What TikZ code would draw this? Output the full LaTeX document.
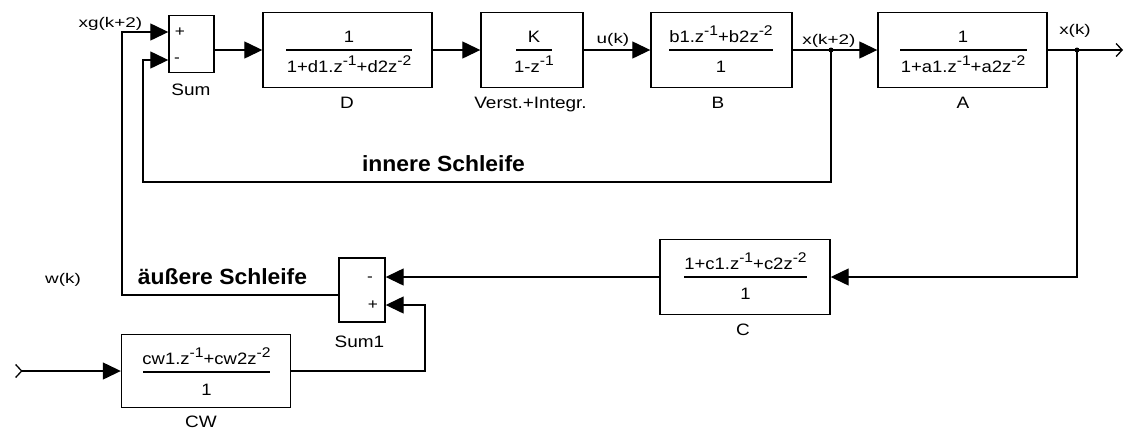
\documentclass[tikz,border=0pt]{standalone}
\usepackage{fontspec}
\setmainfont{Liberation Sans}
\newfontfamily\fsigfam{Liberation Sans}[FakeStretch=1.35]
\newfontfamily\fnamefam{Liberation Sans}[FakeStretch=1.15]
\newfontfamily\ffracfam{Liberation Sans}[FakeStretch=1.12]
\newfontfamily\fboldfam{Liberation Sans}[FakeStretch=1.04]
\usetikzlibrary{arrows.meta}
\newcommand\zsup[1]{\raisebox{6.5pt}{\fontsize{14}{14}\selectfont #1}}
\tikzset{
  box/.style={draw, line width=1.4pt, inner sep=0pt},
  ln/.style={line width=1.3pt},
  arr/.style={ln, -{Triangle[length=18pt,width=17pt]}},
  barbend/.style={ln, -{Straight Barb[length=6pt,width=13pt,line width=1.3pt]}},
  barbstart/.style={ln, {Straight Barb[reversed,length=6pt,width=13pt,line width=1.3pt]}-{Triangle[length=18pt,width=17pt]}},
  numtxt/.style={font=\ffracfam\fontsize{16.5}{17}\selectfont, inner sep=0pt, anchor=base},
  sig/.style={font=\fsigfam\fontsize{14}{15}\selectfont, inner sep=0pt, anchor=base},
  bname/.style={font=\fnamefam\fontsize{16.5}{17}\selectfont, inner sep=0pt, anchor=base},
  loopname/.style={font=\fboldfam\bfseries\fontsize{22}{23}\selectfont, inner sep=0pt, anchor=base},
  sign/.style={font=\fnamefam\fontsize{15}{15}\selectfont, inner sep=0pt},
  fbar/.style={line width=1.3pt},
  dot/.style={fill=black}
}
\begin{document}
\begin{tikzpicture}[x=1pt,y=-1pt]
\useasboundingbox (0,0) rectangle (1126,429);
% blocks
\node[box, minimum width=45pt, minimum height=57pt] (sum) at (191.5,44) {};
\node[box, minimum width=169pt, minimum height=75pt] (D) at (347.5,50) {};
\node[box, minimum width=102pt, minimum height=75pt] (V) at (532,50) {};
\node[box, minimum width=141pt, minimum height=75pt] (B) at (721.5,50) {};
\node[box, minimum width=169pt, minimum height=75pt] (A) at (962.5,50) {};
\node[box, minimum width=170pt, minimum height=75pt] (C) at (745,277) {};
\node[box, minimum width=46pt, minimum height=64pt] (sum1) at (362,290) {};
\node[box, minimum width=169pt, minimum height=73pt] (CW) at (206,371) {};
% fractions
\node[numtxt] (Dnum) at (349,42) {1};
\draw[fbar] (286,50) -- (412,50);
\node[numtxt] (Dden) at (349,72) {1+d1.z\zsup{-1}+d2z\zsup{-2}};
\node[numtxt] (Vnum) at (534,42) {K};
\draw[fbar] (516,50) -- (552,50);
\node[numtxt] (Vden) at (534,72) {1-z\zsup{-1}};
\node[numtxt] (Bnum) at (721,42) {b1.z\zsup{-1}+b2z\zsup{-2}};
\draw[fbar] (669,50) -- (773,50);
\node[numtxt] (Bden) at (721,72) {1};
\node[numtxt] (Anum) at (963,42) {1};
\draw[fbar] (900,50) -- (1027,50);
\node[numtxt] (Aden) at (963,72) {1+a1.z\zsup{-1}+a2z\zsup{-2}};
\node[numtxt] (Cnum) at (745.5,269) {1+c1.z\zsup{-1}+c2z\zsup{-2}};
\draw[fbar] (684,277) -- (807,277);
\node[numtxt] (Cden) at (745.5,299) {1};
\node[numtxt] (CWnum) at (206.5,364) {cw1.z\zsup{-1}+cw2z\zsup{-2}};
\draw[fbar] (143,372) -- (270,372);
\node[numtxt] (CWden) at (206.5,395) {1};
% signs
\node[sign] (sp1) at (180,32) {+};
\node[sign] (sm1) at (177,60) {-};
\node[sign] (sm2) at (370,279) {-};
\node[sign] (sp2) at (373,305) {+};
% block names
\node[bname] (nsum) at (191,95) {Sum};
\node[bname] (nD) at (347,108) {D};
\node[bname] (nV) at (530.5,108) {Verst.+Integr.};
\node[bname] (nB) at (718,108) {B};
\node[bname] (nA) at (963,108) {A};
\node[bname] (nC) at (743,335) {C};
\node[bname] (nsum1) at (359.5,347) {Sum1};
\node[bname] (nCW) at (201,427) {CW};
% signal labels
\node[sig] (lxg) at (110.5,27) {xg(k+2)};
\node[sig] (lu) at (613,43) {u(k)};
\node[sig] (lx2) at (829,44) {x(k+2)};
\node[sig] (lx) at (1075,34) {x(k)};
\node[sig] (lw) at (63,283) {w(k)};
\node[loopname] (linner) at (443.5,171) {innere Schleife};
\node[loopname] (louter) at (222.5,284) {äußere Schleife};
% coordinates
\coordinate (j1) at (831,50);
\coordinate (j2) at (1077,50);
\coordinate (xout) at (1123,50);
\coordinate (iB) at (143,182);
\coordinate (oT) at (122,32);
\coordinate (cwR) at (425,305);
\coordinate (win) at (15,371);
% connectors
\draw[arr] (sum.east |- D.west) -- (D.west);
\draw[arr] (D) -- (V);
\draw[arr] (V) -- (B);
\draw[arr] (B) -- (A);
\draw[barbend] (A) -- (xout);
\draw[arr] (j1) |- (iB) |- ([yshift=-16pt]sum.west);
\draw[arr] (j2) |- (C.east);
\draw[arr] (C.west) -- (C.west -| sum1.east);
\draw[arr] ([yshift=-5pt]sum1.west) -| (oT) -- ([yshift=12pt]sum.west);
\draw[arr] (CW.east) -| (cwR) -- ([yshift=-15pt]sum1.east);
\draw[barbstart] (win) -- (CW.west);
\fill[dot] (j1) circle (2.5pt);
\fill[dot] (j2) circle (2.5pt);
\end{tikzpicture}
\end{document}
